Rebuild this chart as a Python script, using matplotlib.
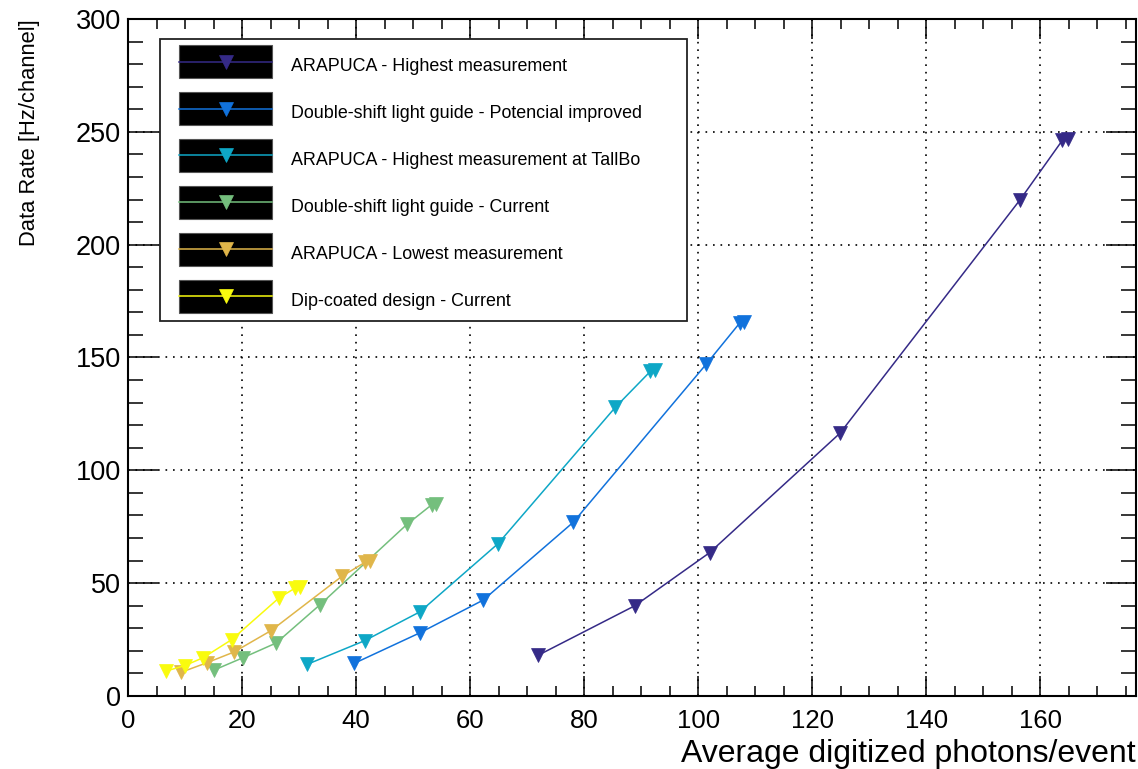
import matplotlib
matplotlib.use("Agg")
import matplotlib.pyplot as plt
from matplotlib import font_manager
from matplotlib.legend_handler import HandlerLine2D
from matplotlib.patches import Rectangle
from matplotlib.ticker import MultipleLocator

plt.rcParams['font.family'] = ['Liberation Sans', 'DejaVu Sans']

# values (last point of every curve is doubled)
labels = [
    "ARAPUCA - Highest measurement",
    "Double-shift light guide - Potencial improved",
    "ARAPUCA - Highest measurement at TallBo",
    "Double-shift light guide - Current",
    "ARAPUCA - Lowest measurement",
    "Dip-coated design - Current",
]
colors = ['#352a87', '#1172dc', '#0ea7c6', '#74bf7d', '#e0b64a', '#f9fb0e']

arapuca_high_x = [71.9, 88.9, 102.0, 124.9, 156.5, 163.9, 164.8]
arapuca_high_y = [18.0, 40.0, 63.5, 116.5, 220.0, 246.3, 246.8]

dslg_improved_x = [39.7, 51.2, 62.3, 78.1, 101.4, 107.3, 108.1]
dslg_improved_y = [14.5, 28.0, 42.5, 77.0, 147.0, 165.3, 165.8]

arapuca_tallbo_x = [31.4, 41.5, 51.2, 64.9, 85.5, 91.6, 92.4]
arapuca_tallbo_y = [14.0, 24.5, 37.3, 67.5, 128.0, 143.8, 144.3]

dslg_current_x = [15.1, 20.2, 26.0, 33.7, 48.9, 53.3, 54.1]
dslg_current_y = [11.5, 17.0, 23.5, 40.5, 76.0, 84.8, 85.3]

arapuca_low_x = [9.3, 13.8, 18.6, 25.1, 37.5, 41.6, 42.4]
arapuca_low_y = [10.5, 14.7, 19.5, 29.0, 53.0, 59.3, 59.8]

dipcoated_x = [6.6, 10.0, 13.2, 18.2, 26.5, 29.3, 30.1]
dipcoated_y = [11.0, 13.5, 17.0, 25.0, 43.5, 47.8, 48.3]

series = [
    (arapuca_high_x, arapuca_high_y),
    (dslg_improved_x, dslg_improved_y),
    (arapuca_tallbo_x, arapuca_tallbo_y),
    (dslg_current_x, dslg_current_y),
    (arapuca_low_x, arapuca_low_y),
    (dipcoated_x, dipcoated_y),
]

BOX_H = 33 * 72 / 100  # black legend box height, in points


class BoxedLine(HandlerLine2D):
    """legend handle drawn on a black box, like the ROOT legend"""
    def create_artists(self, legend, orig_handle, xdescent, ydescent,
                       width, height, fontsize, trans):
        yc = (height - ydescent) / 2
        box = Rectangle((-xdescent, yc - BOX_H / 2), width, BOX_H,
                        facecolor='black', edgecolor='#555555', lw=0.8,
                        transform=trans)
        arts = super().create_artists(legend, orig_handle, xdescent, ydescent,
                                      width, height, fontsize, trans)
        return [box] + arts


W, H = 1138, 769
fig = plt.figure(figsize=(W / 100, H / 100), dpi=100)
ax = fig.add_axes([128 / W, 1 - 696 / H, (1136 - 128) / W, (696 - 19) / H])

handles = []
for (x, y), c, lab in zip(series, colors, labels):
    ln, = ax.plot(x, y, color=c, lw=1.1, marker='v', ms=9.5,
                  markeredgewidth=0.5, markeredgecolor=c, label=lab)
    handles.append(ln)

ax.set_xlim(0, 176.8)
ax.set_ylim(0, 300)
ax.xaxis.set_major_locator(MultipleLocator(20))
ax.xaxis.set_minor_locator(MultipleLocator(5))
ax.yaxis.set_major_locator(MultipleLocator(50))
ax.yaxis.set_minor_locator(MultipleLocator(10))

ax.tick_params(which='both', direction='in', top=True, right=True, width=1.1)
ax.tick_params(axis='x', which='major', length=14.4, pad=9, labelsize=18.5)
ax.tick_params(axis='x', which='minor', length=7.2)
ax.tick_params(axis='y', which='major', length=21.6, pad=5, labelsize=19.5)
ax.tick_params(axis='y', which='minor', length=10.8)
for sp in ax.spines.values():
    sp.set_linewidth(1.5)

ax.grid(True, which='major', color='black', linestyle=(0, (1, 3.5)), lw=1.2)
ax.set_axisbelow(True)

fig.text(1136 / W, 1 - 762 / H, "Average digitized photons/event",
         ha='right', va='baseline', fontsize=23)

# the y title looks condensed in the reference
names = {f.name for f in font_manager.fontManager.ttflist}
if 'Liberation Sans Narrow' in names:
    yt_family, yt_size = ['Liberation Sans Narrow', 'DejaVu Sans'], 19
else:
    yt_family, yt_size = ['Liberation Sans', 'DejaVu Sans'], 15.8
fig.text(30 / W, 1 - 19 / H, "Data Rate [Hz/channel]", rotation=90,
         ha='center', va='top', fontsize=yt_size, family=yt_family)

# legend frame
fig.patches.append(Rectangle((160 / W, 1 - 321 / H), (687 - 160) / W,
                             (321 - 39) / H, transform=fig.transFigure,
                             facecolor='white', edgecolor='#222222',
                             lw=1.3, zorder=5))
fs = 12.9
fs_px = fs * 100 / 72
leg = fig.legend(handles=handles, loc='upper left',
                 bbox_to_anchor=(179 / W, 1 - 52 / H), frameon=False,
                 borderaxespad=0, borderpad=0, fontsize=fs, numpoints=1,
                 handlelength=93 / fs_px, handleheight=1.93,
                 handletextpad=19 / fs_px, labelspacing=1.12,
                 handler_map={plt.Line2D: BoxedLine()})
leg.set_zorder(6)

fig.savefig("out.png", dpi=100)
